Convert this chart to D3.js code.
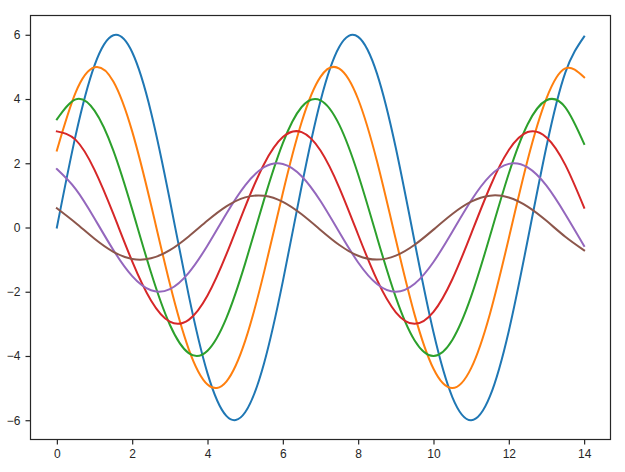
<!DOCTYPE html>
<html>
<head>
<meta charset="utf-8">
<script src="https://cdn.jsdelivr.net/npm/d3@7"></script>
<style>
html,body{margin:0;padding:0;background:#fff;}
svg{display:block;}
.tick text{font-family:"Liberation Sans",Arial,sans-serif;font-size:12px;fill:#262626;}
</style>
</head>
<body>
<svg id="chart" width="625" height="472"></svg>
<script>
// x values (step 0.5 from 0 to 14)
const xValues = [0,0.5,1,1.5,2,2.5,3,3.5,4,4.5,5,5.5,6,6.5,7,7.5,8,8.5,9,9.5,10,10.5,11,11.5,12,12.5,13,13.5,14];

const series1 = [0.000,2.876,5.049,5.985,5.456,3.591,0.847,-2.105,-4.541,-5.865,-5.753,-4.233,-1.676,1.291,3.942,5.628,5.936,4.791,2.473,-0.451,-3.264,-5.278,-6.000,-5.253,-3.220,-0.398,2.521,4.823,5.944];
const series2 = [2.397,4.207,4.988,4.547,2.993,0.706,-1.754,-3.784,-4.888,-4.795,-3.528,-1.397,1.076,3.285,4.690,4.947,3.993,2.061,-0.376,-2.720,-4.399,-5.000,-4.378,-2.683,-0.332,2.101,4.019,4.953,4.675];
const series3 = [3.366,3.990,3.637,2.394,0.564,-1.403,-3.027,-3.910,-3.836,-2.822,-1.118,0.860,2.628,3.752,3.958,3.194,1.648,-0.301,-2.176,-3.519,-4.000,-3.502,-2.146,-0.265,1.681,3.215,3.962,3.740,2.601];
const series4 = [2.993,2.728,1.796,0.423,-1.052,-2.270,-2.933,-2.877,-2.117,-0.838,0.645,1.971,2.814,2.969,2.396,1.236,-0.226,-1.632,-2.639,-3.000,-2.627,-1.610,-0.199,1.261,2.411,2.971,2.805,1.951,0.620];
const series5 = [1.819,1.197,0.282,-0.702,-1.514,-1.955,-1.918,-1.411,-0.559,0.430,1.314,1.876,1.979,1.597,0.824,-0.150,-1.088,-1.759,-2.000,-1.751,-1.073,-0.133,0.840,1.608,1.981,1.870,1.301,0.413,-0.576];
const series6 = [0.599,0.141,-0.351,-0.757,-0.978,-0.959,-0.706,-0.279,0.215,0.657,0.938,0.989,0.799,0.412,-0.075,-0.544,-0.880,-1.000,-0.876,-0.537,-0.066,0.420,0.804,0.991,0.935,0.650,0.207,-0.288,-0.712];

const allSeries = [series1,series2,series3,series4,series5,series6];
const colors = ["#1f77b4","#ff7f0e","#2ca02c","#d62728","#9467bd","#8c564b"];
const xTicks = [0,2,4,6,8,10,12,14];
const yTicks = [-6,-4,-2,0,2,4,6];

const svg = d3.select("#chart");
const mLeft = 30.5, mRight = 610.5, mTop = 15.5, mBottom = 439.5;

const x = d3.scaleLinear().domain([-0.7,14.7]).range([mLeft,mRight]);
const y = d3.scaleLinear().domain([-6.6,6.6]).range([mBottom,mTop]);

const line = d3.line()
  .x((d,i)=>x(xValues[i]))
  .y(d=>y(d))
  .curve(d3.curveNatural);

const g = svg.append("g");
allSeries.forEach((s,k)=>{
  g.append("path").datum(s)
    .attr("fill","none")
    .attr("stroke",colors[k])
    .attr("stroke-width",2)
    .attr("stroke-linejoin","round")
    .attr("stroke-linecap","square")
    .attr("d",line);
});

const fmt = d=> d<0 ? "\u2212"+Math.abs(d) : String(d);

const xAxis = svg.append("g").attr("transform",`translate(0,${mBottom})`)
  .call(d3.axisBottom(x).tickValues(xTicks).tickFormat(fmt).tickSize(5).tickPadding(5));
const yAxis = svg.append("g").attr("transform",`translate(${mLeft},0)`)
  .call(d3.axisLeft(y).tickValues(yTicks).tickFormat(fmt).tickSize(5).tickPadding(5));

[xAxis,yAxis].forEach(a=>{
  a.select(".domain").remove();
  a.selectAll(".tick line").attr("stroke","#262626").attr("stroke-width",1.2);
});

svg.append("rect")
  .attr("x",mLeft).attr("y",mTop)
  .attr("width",mRight-mLeft).attr("height",mBottom-mTop)
  .attr("fill","none").attr("stroke","#262626").attr("stroke-width",1.2);
</script>
</body>
</html>
